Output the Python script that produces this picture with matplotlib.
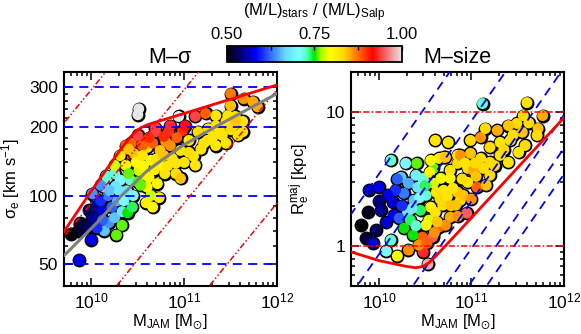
import numpy as np
import matplotlib
matplotlib.use('Agg')
import matplotlib.pyplot as plt
from matplotlib.colors import LinearSegmentedColormap, Normalize
from matplotlib.ticker import FixedLocator, FixedFormatter, NullFormatter, LogLocator
import matplotlib.cm as cm

plt.rcParams['font.family'] = ['Liberation Sans', 'DejaVu Sans']
plt.rcParams['mathtext.fontset'] = 'custom'
plt.rcParams['mathtext.rm'] = 'Liberation Sans'
plt.rcParams['mathtext.it'] = 'Liberation Sans:italic'
plt.rcParams['mathtext.bf'] = 'Liberation Sans:bold'
plt.rcParams['mathtext.sf'] = 'Liberation Sans'
plt.rcParams['mathtext.fallback'] = 'stixsans'

# ---------------- data ----------------
# Left panel: M-sigma  (log10 M_JAM, sigma_e [km/s], (M/L)stars/(M/L)Salp)
ms_logM = [9.87, 10.00, 9.78, 9.86, 9.92, 9.98, 10.01, 10.05, 10.05, 10.11,
           10.01, 10.14, 10.19, 10.25, 10.22, 10.28, 10.33, 10.27, 10.33, 10.39,
           10.44, 10.14, 10.17, 10.25, 10.31, 10.25, 10.16, 10.43, 10.54, 10.46,
           10.60, 10.60, 10.59, 10.66, 10.73, 10.71, 10.79, 10.38, 10.42, 10.37,
           10.51, 10.53, 10.45, 10.31, 10.51, 10.50, 10.94, 10.50, 10.69, 10.83,
           10.98, 11.12, 11.23, 11.50, 11.64, 11.74, 11.79, 11.34, 11.47, 11.55,
           11.63, 11.53, 11.58, 11.63, 11.45, 11.34, 11.41, 11.26, 11.15, 11.05,
           11.21, 11.34, 11.45, 11.31, 11.10, 11.12, 10.91, 10.91, 10.96, 10.87,
           10.55, 10.37, 10.66, 10.80, 10.74, 10.85, 10.96, 10.64, 10.74, 11.01,
           10.85, 10.69, 11.50, 10.10, 10.10, 10.18, 10.58, 10.64, 9.97, 9.88,
           10.35, 10.40, 10.48, 10.55, 10.50, 10.56, 10.62, 10.68, 10.70, 10.78,
           10.82, 11.00, 11.05, 11.18, 11.25, 11.38, 11.50, 11.55, 10.26, 10.20,
           10.30, 10.12, 10.06, 10.40, 10.62, 10.78, 10.92]
ms_sigma = [52, 64, 68, 70, 72, 73, 80, 89, 97, 86,
            102, 70, 76, 80, 89, 95, 85, 67, 74, 84,
            89, 109, 120, 125, 117, 136, 122, 170, 175, 153,
            163, 109, 93, 89, 98, 113, 125, 105, 117, 136,
            129, 111, 100, 150, 241, 227, 223, 184, 191, 191,
            193, 223, 230, 281, 267, 259, 246, 225, 225, 223,
            212, 203, 184, 191, 212, 203, 184, 197, 191, 175,
            170, 166, 170, 182, 149, 136, 139, 125, 119, 146,
            166, 166, 170, 173, 158, 166, 158, 143, 136, 203,
            203, 199, 249, 111, 95, 100, 123, 100, 86, 76,
            95, 125, 140, 150, 115, 135, 120, 130, 145, 150,
            135, 140, 155, 160, 175, 195, 195, 215, 110, 105,
            105, 78, 72, 160, 180, 182, 180]
ms_ml = [0.58, 0.58, 0.50, 0.51, 0.52, 0.53, 0.55, 0.54, 0.56, 0.57,
         0.64, 0.66, 0.64, 0.66, 0.62, 0.65, 0.68, 0.76, 0.76, 0.75,
         0.74, 0.68, 0.70, 0.72, 0.70, 0.78, 0.72, 0.88, 0.92, 0.84,
         0.82, 0.80, 0.81, 0.80, 0.81, 0.80, 0.82, 0.68, 0.72, 0.80,
         0.78, 0.76, 0.70, 0.82, 1.00, 1.00, 1.00, 0.94, 0.94, 0.93,
         0.90, 0.94, 0.88, 0.87, 0.86, 0.85, 0.85, 0.82, 0.82, 0.83,
         0.82, 0.82, 0.82, 0.82, 0.82, 0.82, 0.82, 0.82, 0.83, 0.82,
         0.82, 0.82, 0.82, 0.82, 0.82, 0.82, 0.82, 0.83, 0.84, 0.82,
         0.88, 0.88, 0.88, 0.86, 0.84, 0.86, 0.82, 0.80, 0.80, 0.92,
         0.93, 0.94, 0.84, 0.64, 0.60, 0.63, 0.78, 0.78, 0.53, 0.52,
         0.70, 0.76, 0.80, 0.82, 0.76, 0.80, 0.80, 0.81, 0.82, 0.84,
         0.82, 0.82, 0.83, 0.82, 0.82, 0.82, 0.83, 0.84, 0.68, 0.66,
         0.68, 0.62, 0.60, 0.84, 0.90, 0.90, 0.88]

# Right panel: M-size  (log10 M_JAM, log10 R_e^maj [kpc], (M/L)stars/(M/L)Salp)
sz_logM = [10.13, 10.41, 9.89, 10.00, 10.00, 10.02, 10.08, 9.88, 9.81, 9.86,
           9.94, 10.15, 10.16, 10.24, 10.32, 10.42, 10.27, 10.38, 10.31, 10.48,
           10.13, 10.08, 10.27, 10.34, 10.20, 10.32, 10.48, 10.58, 10.95, 10.53,
           10.47, 10.65, 10.56, 10.70, 10.77, 10.85, 10.70, 10.59, 10.88, 10.77,
           11.12, 11.60, 11.77, 11.56, 11.49, 11.40, 11.72, 11.71, 11.58, 11.51,
           11.40, 11.31, 11.20, 11.10, 10.61, 10.75, 10.65, 10.72, 10.85, 10.88,
           10.99, 11.10, 11.20, 11.06, 11.20, 10.96, 10.96, 10.85, 10.77, 10.59,
           10.48, 10.91, 10.40, 10.51, 10.45, 10.54, 10.61, 10.69, 10.67, 10.80,
           10.83, 10.72, 10.37, 10.22, 10.18, 10.29, 10.56, 10.99, 11.31, 11.28,
           11.15, 11.42, 11.02, 11.16, 10.51, 10.43, 9.97,
           10.62, 10.66, 10.74, 10.78, 10.90, 10.93, 11.04, 11.05, 11.13, 11.25,
           11.35, 11.45, 11.55, 11.62, 10.55, 10.50, 10.44, 10.36, 10.40, 10.52,
           10.60, 10.63, 10.85, 11.00, 10.20, 10.10, 10.25]
sz_logR = [0.640, 0.617, 0.416, 0.438, 0.334, 0.266, 0.177, 0.251, 0.154, 0.057,
           0.020, 0.326, 0.229, 0.513, 0.468, 0.438, 0.393, 0.341, 0.251, 0.490,
           0.043, -0.040, 0.132, 0.192, -0.077, -0.032, -0.047, 0.065, 0.244, -0.137,
           0.065, 0.140, 0.289, 0.416, 0.565, 0.617, 0.662, 0.468, 0.341, 0.214,
           1.065, 1.072, 0.975, 0.975, 0.916, 0.900, 0.878, 0.826, 0.751, 0.699,
           0.625, 0.774, 0.737, 0.811, 0.789, 0.774, 0.654, 0.662, 0.677, 0.677,
           0.692, 0.654, 0.625, 0.438, 0.528, 0.580, 0.475, 0.401, 0.505, 0.580,
           0.505, 0.378, 0.528, 0.378, 0.266, 0.192, 0.251, 0.304, 0.505, 0.431,
           0.304, 0.154, 0.080, 0.207, 0.416, 0.617, 0.640, 0.789, 0.677, 0.864,
           0.878, 0.789, 0.565, 0.453, 0.154, 0.005, 0.117,
           0.40, 0.35, 0.37, 0.30, 0.50, 0.62, 0.62, 0.52, 0.58, 0.60,
           0.72, 0.83, 0.85, 0.92, 0.55, 0.45, 0.36, 0.28, 0.15, 0.02,
           0.10, 0.18, 0.22, 0.35, 0.50, 0.38, 0.30]
sz_ml = [0.72, 0.76, 0.56, 0.58, 0.54, 0.55, 0.57, 0.51, 0.50, 0.52,
         0.57, 0.57, 0.58, 0.66, 0.65, 0.68, 0.63, 0.66, 0.68, 0.70,
         0.72, 0.70, 0.75, 0.74, 0.80, 0.86, 0.93, 0.95, 0.95, 0.98,
         0.88, 0.88, 0.80, 0.82, 0.82, 0.83, 0.82, 0.78, 0.83, 0.85,
         0.72, 0.82, 0.85, 0.83, 0.83, 0.84, 0.84, 0.83, 0.83, 0.82,
         0.82, 0.82, 0.83, 0.86, 0.82, 0.82, 0.82, 0.84, 0.82, 0.86,
         0.84, 0.83, 0.83, 0.88, 0.83, 0.83, 0.82, 0.84, 0.80, 0.76,
         0.72, 0.84, 0.69, 0.72, 0.74, 0.78, 0.82, 0.83, 0.79, 0.82,
         0.84, 0.86, 0.75, 0.62, 0.60, 0.70, 0.80, 0.83, 0.82, 0.85,
         0.83, 0.83, 0.85, 0.84, 0.80, 0.86, 0.53,
         0.82, 0.83, 0.82, 0.84, 0.83, 0.82, 0.83, 0.84, 0.83, 0.83,
         0.83, 0.83, 0.84, 0.83, 0.80, 0.74, 0.70, 0.68, 0.72, 0.88,
         0.86, 0.84, 0.86, 0.86, 0.62, 0.58, 0.60]

# Zone of exclusion (red solid)
zoe_M = [5e9, 1e10, 2e10, 2.5e10, 3e10, 3.5e10, 4e10, 5e10, 7e10, 1e11, 3e11, 1e12]
zoe_R = [0.90, 0.775, 0.70, 0.685, 0.70, 0.75, 0.82, 0.965, 1.24, 1.62, 3.70, 9.1]
zoe_sigma = [69, 105, 157, 177, 192, 200, 205, 211, 220, 230, 264, 307]

# Running mean (grey line) in M-sigma
run_logM = [9.71, 10.065, 10.324, 10.604, 10.766, 10.982, 11.338, 11.694, 12.0]
run_sigma = [54.7, 76.4, 100, 129, 144, 166, 201, 241, 281]

sigma_levels = [50, 100, 200, 300]              # horizontal lines left
sigma_levels_right = [50, 100, 200, 300, 400, 500]  # diagonal lines right
R_levels = [0.1, 1, 10, 100]                    # diagonal lines left
R_levels_right = [1, 10]                        # horizontal lines right
G = 4.301e-6  # kpc (km/s)^2 / Msun

# sauron colormap
xc = np.array([1.0, 43.5, 86.0, 86.0 + 20, 128.5 - 10, 128.5, 128.5 + 10, 171.0 - 20, 171.0, 213.5, 256.0])
rc = [0.01, 0.0, 0.4, 0.5, 0.3, 0.0, 0.7, 1.0, 1.0, 1.0, 0.9]
gc = [0.01, 0.0, 0.85, 1.0, 1.0, 0.9, 1.0, 1.0, 0.85, 0.0, 0.9]
bc = [0.01, 1.0, 1.0, 1.0, 0.7, 0.0, 0.0, 0.0, 0.0, 0.0, 0.9]
xn = (xc - 1) / 255.
cdict = {'red': list(zip(xn, rc, rc)), 'green': list(zip(xn, gc, gc)), 'blue': list(zip(xn, bc, bc))}
cmap = LinearSegmentedColormap('sauron', cdict)
norm = Normalize(0.5, 1.0)

# ---------------- figure ----------------
fig = plt.figure(figsize=(5.81, 3.34), dpi=100)
axL = fig.add_axes([0.1093, 0.1437, 0.3675, 0.6407])
axR = fig.add_axes([0.6041, 0.1437, 0.3666, 0.6407])

S_EDGE, S_FILL = 100, 62
Mgrid = np.logspace(9.5, 12.2, 50)

# Left panel
mL = 10 ** np.array(ms_logM)
axL.scatter(mL, ms_sigma, s=S_EDGE, c='k', lw=0, zorder=2)
axL.scatter(mL, ms_sigma, s=S_FILL, c=ms_ml, cmap=cmap, norm=norm, lw=0, zorder=2.5)
for s in sigma_levels:
    axL.axhline(s, color='#0000ff', ls=(0, (5, 3.5)), lw=1.3, zorder=3)
for R in R_levels:
    axL.plot(Mgrid, np.sqrt(G * Mgrid / (5 * R)), color='red', lw=1.1,
             ls=(0, (4, 1.5, 1, 1.5, 1, 1.5)), zorder=3)
axL.plot(10 ** np.array(run_logM), run_sigma, color='#808080', lw=2.2, zorder=3.5)
axL.plot(zoe_M, zoe_sigma, color='red', lw=2.0, zorder=4)

# Right panel
mR = 10 ** np.array(sz_logM)
rR = 10 ** np.array(sz_logR)
axR.scatter(mR, rR, s=S_EDGE, c='k', lw=0, zorder=2)
axR.scatter(mR, rR, s=S_FILL, c=sz_ml, cmap=cmap, norm=norm, lw=0, zorder=2.5)
for s in sigma_levels_right:
    axR.plot(Mgrid, G * Mgrid / (5 * s ** 2), color='#0000ff', ls=(0, (5, 3.5)), lw=1.3, zorder=3)
for R in R_levels_right:
    axR.axhline(R, color='red', lw=1.1, ls=(0, (4, 1.5, 1, 1.5)), zorder=3)
axR.plot(zoe_M, zoe_R, color='red', lw=2.0, zorder=4)

for ax in (axL, axR):
    ax.set_xscale('log')
    ax.set_yscale('log')
    ax.xaxis.set_major_locator(FixedLocator([1e10, 1e11, 1e12]))
    ax.xaxis.set_minor_locator(LogLocator(base=10, subs=np.arange(2, 10)))
    ax.xaxis.set_minor_formatter(NullFormatter())
    ax.tick_params(which='both', direction='in', top=True, right=True, width=1.1)
    ax.tick_params(which='major', length=5.5, labelsize=12.5, pad=4)
    ax.tick_params(which='minor', length=2.8)
    for sp in ax.spines.values():
        sp.set_linewidth(1.5)
    ax.set_xlabel(r'M$_{\rm JAM}$ [M$_{\odot}$]', fontsize=12)
    ax.xaxis.set_label_coords(0.5, -0.19)
    ax.xaxis.label.set_va('baseline')

axL.set_xlim(5e9, 1e12)
axL.set_ylim(40, 350)
axR.set_xlim(5e9, 1e12)
axR.set_ylim(0.5, 20)

axL.yaxis.set_major_locator(FixedLocator(sigma_levels))
axL.yaxis.set_major_formatter(FixedFormatter([str(s) for s in sigma_levels]))
axL.yaxis.set_minor_locator(FixedLocator([40, 60, 70, 80, 90, 120, 140, 160, 180, 220, 240, 260, 280]))
axL.yaxis.set_minor_formatter(NullFormatter())
axL.set_ylabel('σ$_{\\rm e}$ [km s$^{-1}$]', fontsize=12)
axL.yaxis.set_label_coords(-0.195, 0.5)

axR.yaxis.set_major_locator(FixedLocator([1, 10]))
axR.yaxis.set_major_formatter(FixedFormatter(['1', '10']))
axR.yaxis.set_minor_locator(LogLocator(base=10, subs=np.arange(2, 10)))
axR.yaxis.set_minor_formatter(NullFormatter())
axR.set_ylabel(r'R$_{\rm e}^{\rm maj}$ [kpc]', fontsize=12)
axR.yaxis.set_label_coords(-0.185, 0.5)

fig.text(0.2926, 0.812, 'M\u2013σ', fontsize=15.5, ha='center', va='baseline')
fig.text(0.7874, 0.812, 'M\u2013size', fontsize=15.5, ha='center', va='baseline')

# Colorbar
cax = fig.add_axes([0.3907, 0.8144, 0.3012, 0.0479])
sm = cm.ScalarMappable(norm=norm, cmap=cmap)
cb = fig.colorbar(sm, cax=cax, orientation='horizontal')
cb.set_ticks([0.5, 0.625, 0.75, 0.875, 1.0], labels=['0.50', '', '0.75', '', '1.00'])
cax.xaxis.set_ticks_position('top')
cax.tick_params(which='both', direction='in', length=3, width=1, labelsize=12, pad=3)
cax.minorticks_off()
cb.outline.set_linewidth(1.3)
fig.text(0.5413, 0.962, r'(M/L)$_{\rm stars}$ / (M/L)$_{\rm Salp}$', fontsize=12,
         ha='center', va='center')

fig.savefig('out.png', dpi=100)
